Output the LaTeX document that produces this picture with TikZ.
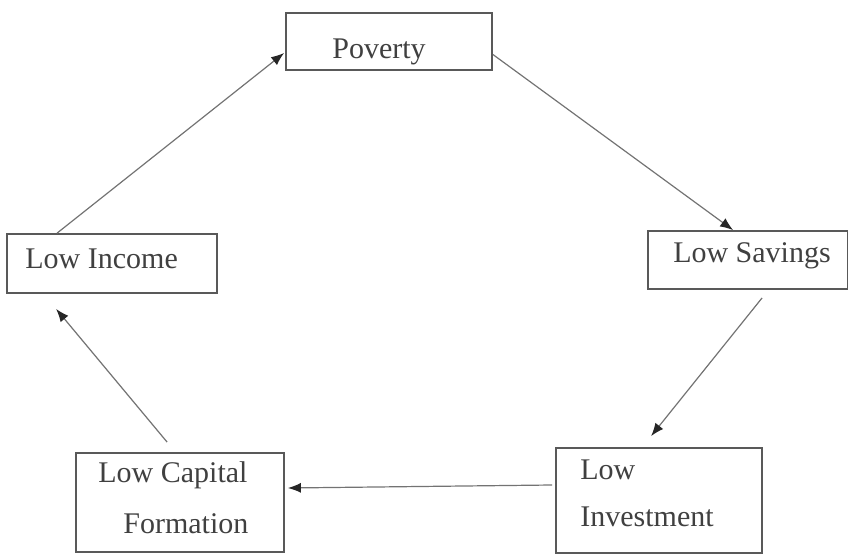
\documentclass[tikz,border=0pt]{standalone}
\usepackage{fontspec}
\setmainfont{Liberation Serif}
\usetikzlibrary{calc,arrows.meta}

\begin{document}
\begin{tikzpicture}[x=0.5pt, y=-0.5pt,
                    box/.style={draw=black!65,
                                line width=0.9pt,
                                minimum width=#1,
                                inner sep=0pt},
                    txt/.style={inner sep=0pt,
                                text=black!75,
                                font=\fontsize{15}{25}\selectfont},
                    link/.style={draw=black!55,
                                 line width=0.6pt,
                                 -{Latex[length=6.5pt,width=5pt,black!85]}}]
  \useasboundingbox (0,0) rectangle (848,556);

  \node[box=103pt, minimum height=28.5pt] (poverty) at (389, 41.5) {};
  \node[box=100pt, minimum height=29pt]   (savings) at (748, 260) {};
  \node[box=105pt, minimum height=29.5pt] (income)  at (112, 263.5) {};
  \node[box=104pt, minimum height=49.5pt] (capital) at (180, 502.5) {};
  \node[box=103pt, minimum height=52.5pt] (invest)  at (659, 500.5) {};

  \node[txt, anchor=base]      (t-poverty) at (379, 59)   {Poverty};
  \node[txt, anchor=base]      (t-savings) at (752, 263)  {Low Savings};
  \node[txt, anchor=base west] (t-income)  at (25, 269)   {Low Income};
  \node[txt, anchor=base west, align=left] (t-capital) at (98, 533)
        {Low Capital\\\hspace{12.5pt}Formation};
  \node[txt, anchor=base west, align=left] (t-invest)  at (580, 527)
        {Low\\[-1pt]Investment};

  \draw[link] ($(income.north west)+(51,0)$)   -- ($(poverty.west)+(-1,11.5)$);
  \draw[link] ($(poverty.east)+(0,13)$)        -- ($(savings.north west)+(86,0)$);
  \draw[link] ($(savings.south west)+(115,8)$) -- ($(invest.north west)+(96,-11)$);
  \draw[link] ($(invest.west)+(-3,-15.5)$)     -- ($(capital.east)+(3,-14.5)$);
  \draw[link] ($(capital.north west)+(92,-10)$) -- ($(income.south west)+(50,15)$);
\end{tikzpicture}
\end{document}
